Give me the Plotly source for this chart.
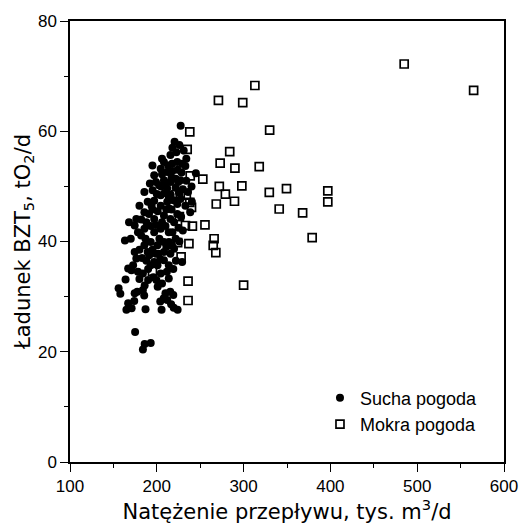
import plotly.graph_objects as go

# Sucha pogoda (dry weather): flow [tys. m3/d], BOD5 load [tO2/d]
dry_pts = [
    (156,31.5),(158,30.5),(165,27.6),(167,28.8),(171,27.9),(174.5,30.6),(177.5,30.9),(174,29.2),
    (184,31.2),(186,32.0),(185.5,30.2),(187,27.7),(199.5,33.0),(201,31.8),(206,32.4),(210,30.6),
    (204,29.1),(205.5,27.6),(208,29.7),(212,29.4),(215.5,30.9),(219,30.3),(216.5,28.6),(219.5,28.0),
    (224,27.6),(175,23.6),(184,20.4),(186,21.4),(193,21.6),
    (163.3,40.2),(167,35.1),(164,33.1),(172.7,35.7),(170.8,34.8),(178.3,34.5),(184,34.2),(176.4,36.9),
    (174.5,38.1),(180,33.2),(211.6,34.5),(213.8,33.3),(204.5,34.2),(176.4,44.1),(174.5,42.9),(178.3,41.7),
    (182,41.1),(185.7,39.3),(191.3,37.5),(193,35.7),(200.8,35.7),(208.2,36.6),(213.8,35.7),(197,36.3),
    (204,36.8),(229.2,36.3),
    (189.5,47.2),(197,47.4),(204.5,46.5),(212,47.2),(185.7,45.3),(197,44.1),(208.2,44.7),(215.7,44.1),
    (185.7,42.3),(197,41.7),(204.5,42.3),(213.8,41.7),(193,39.9),(200.8,39.3),(208.2,39.9),(217.6,39.3),
    (189.5,38.1),(198.9,37.8),(208.2,38.1),(215.7,37.8),(223.6,46.8),(232.9,46.5),(240.4,47.2),(238.5,45.3),
    (223.6,45.0),(219.9,43.5),(218,41.7),(221.7,40.5),(219.9,38.7),
    (227.5,61.0),(220.5,58.1),(222.5,56.2),(215.7,55.7),(223.6,54.4),(229.2,54.1),(232.9,53.7),(224,53.0),
    (228.5,52.5),(221.7,51.4),(227.3,51.1),(245,52.4),(221.7,49.8),(225.5,48.9),(227.3,47.7),(208.2,54.4),
    (217.6,54.1),(195,53.8),(204.5,53.2),(212,52.6),(197,52.0),(208.2,51.1),(215.7,50.8),(202.6,50.2),
    (212,49.6),(185.7,49.0),(195.2,49.3),(204.5,48.4),(213.8,48.1),(206,52.2),(217,51.6),(224.7,50.8),
    (168,43.5),(170,40.5),(180,46.5),(182,44.0),(188,43.5),(191,45.0),(193,42.8),(195,45.8),(199,43.0),
    (201,45.5),(203,40.5),(206,43.5),(210,42.8),(211,45.8),(214,46.0),(217,45.8),(219,47.5),(216,48.5),
    (209,48.8),(200,48.6),(192,50.5),(199,50.8),(205,50.0),(210,50.6),(218,52.8),(213,53.8),(206,55.0),
    (194,46.5),(187,40.5),(195,38.5),(202,37.8),(211,39.0),(214,39.9),(225,42.5),(228,44.5),(230,42.0),
    (226,40.0),(222,36.5),(219,35.0),(190,35.0),(188,36.5),(180,38.5),(183,37.0),(226,57.5),(231,56.5),
    (218,57.0),(234,55.0),(230,49.5),(234,51.0),(236,49.0),(240,50.0),(190,33.0),(196,33.5),
]
dry_flow = [p[0] for p in dry_pts]
dry_load = [p[1] for p in dry_pts]

# Mokra pogoda (wet weather)
wet_pts = [
    (485,72.2),(565,67.4),(313,68.3),(271,65.6),(299,65.2),(330,60.2),(284,56.3),(273,54.2),
    (290,53.3),(318,53.6),(272,50.0),(298,50.1),(279,48.6),(289.5,47.3),(268.5,46.8),(329.6,48.9),
    (349.4,49.6),(397,49.2),(397,47.2),(341,45.9),(368,45.2),(379,40.7),(266,40.5),(265,39.3),
    (268,38.0),(300,32.1),(238,59.9),(235,56.7),(238.5,51.9),(253,51.3),(222,48.5),(227,48.5),
    (234,48.4),(238,47.1),(240,46.2),(233,42.9),(241,42.8),(255.5,43.0),(224,39.8),(237,39.6),
    (228,37.2),(195,34.6),(236,32.8),(236,29.3),(226,44.5),
]
wet_flow = [p[0] for p in wet_pts]
wet_load = [p[1] for p in wet_pts]

x_ticks = [100, 200, 300, 400, 500, 600]
y_ticks = [0, 20, 40, 60, 80]

FONT = "Liberation Sans, Arial, sans-serif"
TITLE_FONT = "DejaVu Sans, sans-serif"

fig = go.Figure()
fig.add_trace(go.Scatter(
    x=dry_flow, y=dry_load, mode="markers", name="Sucha pogoda",
    marker=dict(symbol="circle", size=8, color="black", line=dict(width=0)),
))
fig.add_trace(go.Scatter(
    x=wet_flow, y=wet_load, mode="markers", name="Mokra pogoda",
    marker=dict(symbol="square-open", size=8, color="black", line=dict(width=1.7, color="black")),
))

axis_common = dict(
    showline=True, linecolor="black", linewidth=1.5, mirror=True,
    ticks="outside", ticklen=8, tickwidth=1.2, tickcolor="black",
    showgrid=False, zeroline=False,
    tickfont=dict(family=FONT, size=17, color="black"),
)

fig.update_xaxes(
    range=[100, 600], tickvals=x_ticks,
    title=dict(text="Natężenie przepływu, tys. m<sup>3</sup>/d",
               font=dict(family=TITLE_FONT, size=21, color="black"), standoff=2),
    minor=dict(ticks="outside", ticklen=4, tickcolor="black", dtick=50, tick0=100),
    **axis_common,
)
fig.update_yaxes(
    range=[0, 80], tickvals=y_ticks,
    title=dict(text="Ładunek BZT<sub>5</sub>, tO<sub>2</sub>/d",
               font=dict(family=TITLE_FONT, size=21, color="black"), standoff=2),
    minor=dict(ticks="outside", ticklen=4, tickcolor="black", dtick=10, tick0=0),
    **axis_common,
)

fig.update_layout(
    width=530, height=525,
    margin=dict(l=70, r=16, t=19, b=62),
    paper_bgcolor="white", plot_bgcolor="white",
    font=dict(family=FONT, size=17, color="black"),
    legend=dict(x=0.576, y=0.187, xanchor="left", yanchor="top",
                bgcolor="rgba(0,0,0,0)", font=dict(family=FONT, size=18, color="black"),
                itemsizing="trace", tracegroupgap=0),
    showlegend=True,
)

fig.write_html("out.html")
